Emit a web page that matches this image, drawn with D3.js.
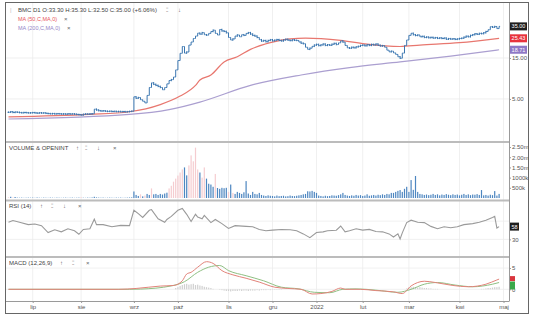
<!DOCTYPE html>
<html>
<head>
<meta charset="utf-8">
<script src="https://cdn.jsdelivr.net/npm/d3@7"></script>
<style>
  body { margin: 0; background: #fff; }
  svg { display: block; font-family: "Liberation Sans", Arial, sans-serif; }
</style>
</head>
<body>
<svg id="chart" width="536" height="318"></svg>
<script>
// daily closes (index 0 = mid June 2021)
var closes = [
  3.50,3.55,3.48,3.52,3.50,3.47,3.45,3.48,3.46,3.44,
  3.45,3.47,3.44,3.42,3.45,3.43,3.44,3.40,3.38,3.36,
  3.38,3.35,3.37,3.36,3.34,3.35,3.33,3.36,3.34,3.35,
  3.33,3.30,3.28,3.25,3.32,3.34,3.33,3.35,3.36,3.80,
  3.72,3.65,3.62,3.64,3.60,3.58,3.60,3.57,3.59,3.56,
  3.58,3.55,3.57,3.54,3.56,3.58,3.60,5.30,5.10,5.20,
  4.90,4.70,4.50,5.50,6.80,7.70,7.40,7.20,7.00,6.80,
  6.40,6.80,7.50,8.20,8.40,9.00,10.9,14.0,17.0,20.4,
  17.1,17.6,21.2,23.0,25.3,27.0,29.2,28.5,29.6,28.0,
  27.7,29.0,30.5,31.6,29.0,27.8,32.2,31.0,30.6,29.5,
  26.0,24.3,25.0,27.0,27.8,26.5,28.0,27.5,29.0,29.6,
  28.5,27.5,27.0,26.0,24.5,23.6,24.0,23.2,24.0,24.5,
  23.8,24.2,24.6,24.0,23.7,24.3,24.8,24.2,23.9,24.4,
  24.1,24.0,23.0,22.3,22.0,20.0,18.9,19.5,20.5,21.2,
  21.6,20.9,21.3,21.8,21.0,21.4,21.1,21.7,22.2,21.5,
  22.5,23.7,23.0,21.0,19.7,19.5,20.0,19.7,20.2,20.5,
  21.0,21.2,20.8,21.4,21.0,21.6,21.3,21.8,21.1,20.7,
  20.9,20.0,18.5,17.7,18.0,17.2,16.5,15.5,14.9,17.1,
  21.0,24.3,27.5,29.1,28.0,27.4,27.8,26.5,26.8,26.0,
  26.3,25.8,26.1,25.6,25.9,25.4,25.7,25.3,25.6,24.8,
  25.2,24.9,25.1,24.7,25.0,25.3,25.5,26.2,26.9,26.5,
  27.5,28.0,28.7,28.3,29.0,28.8,29.5,30.5,32.0,34.7,
  34.2,34.9,33.0,35.0
];

// daily volume in thousands
var volumes = [
  30,60,25,50,20,15,20,10,15,20,
  15,20,10,25,15,10,20,15,10,20,
  15,10,20,15,10,15,20,10,15,20,
  10,15,20,40,15,10,20,15,25,60,
  30,20,15,20,10,15,20,15,10,20,
  15,20,10,15,20,25,30,320,150,100,
  180,80,120,200,150,470,180,200,150,200,
  170,220,260,470,600,800,950,1100,1250,1400,
  1500,1110,1600,2090,1800,2470,1400,1250,1000,1500,
  950,700,660,550,1180,490,450,500,480,500,
  300,660,250,200,300,250,200,280,830,220,
  150,300,200,180,250,150,120,100,130,110,
  100,80,120,90,100,110,80,90,120,100,
  90,110,130,150,180,200,330,320,350,300,
  250,120,100,80,110,90,100,130,120,110,
  140,180,250,150,120,100,130,110,150,120,
  140,100,120,180,110,130,150,120,160,140,
  180,150,200,180,250,250,300,350,390,300,
  450,550,300,880,400,1080,300,200,180,150,
  170,140,160,200,150,180,130,170,150,190,
  160,140,180,150,170,130,160,200,150,180,
  140,170,160,190,150,390,130,150,120,160,
  140,340,120,200
];
// days whose volume bar is drawn pink
var downDays = [0,2,33,60,62,65,73,74,75,76,77,78,79,82,83,84,85,86,88,89,94,100,102];

var ma50Idx = [0,37,55,69,78,85,87,92,98,104,110,119,128,135,151,162,178,187,205,223];
var ma50Val = [3.1,3.3,3.55,4.3,5.4,7.2,8.3,9.5,13.5,15.5,18.9,22.6,25.1,25.6,24.0,21.9,20.4,21.2,22.6,25.43];

var ma200Idx = [0,55,73,87,110,133,155,178,201,223];
var ma200Val = [2.92,3.3,3.75,4.6,7.2,9.5,11.6,13.5,15.8,18.71];

var rsiIdx = [0,2,5,9,12,15,18,21,24,27,30,32,34,37,39,40,43,47,51,55,
  57,59,61,64,65,68,71,72,74,77,79,81,83,85,86,88,89,92,94,97,
  100,103,108,111,114,117,120,124,128,131,134,137,140,143,145,149,151,153,155,158,
  161,164,167,170,173,175,177,178,179,181,183,186,189,192,195,198,201,204,207,211,
  214,217,220,221,222,223];
var rsiVal = [67.6,71.3,67.6,62.3,63.8,60.1,45.0,51.0,46.5,53.3,48.8,41.2,51.8,53.3,74.4,62.3,62.3,57.8,60.8,60.1,
  93.9,86.4,78.1,93.9,95.4,75.1,67.6,73.6,80.4,93.9,98.0,85.0,69.1,85.0,79.0,75.1,82.6,66.8,73.6,64.6,
  54.0,60.1,58.5,57.8,51.8,48.8,50.3,51.8,51.0,48.8,42.0,33.7,45.0,46.5,48.8,50.0,59.3,46.5,48.8,53.3,
  50.3,51.8,47.3,46.5,42.0,35.2,42.0,30.7,44.2,66.8,72.1,67.6,66.8,58.5,53.3,57.8,55.5,57.8,62.3,64.6,
  67.6,72.1,78.1,80.4,54.8,58.0];

var macdIdx = [0,50,58,69,75,79,81,83,86,90,93,97,102,108,114,121,127,133,138,142,147,151,153,160,167,175,179,183,186,189,194,202,209,217,222,223];
var macdVal = [0,0,0.2,0.76,0.9,2.0,3.6,4.0,5.2,6.5,6.1,4.4,3.4,2.6,1.7,0.5,0.2,0,-1.1,-1.0,-0.5,0.3,0,0,-0.3,-0.6,-1.0,0.8,1.6,1.9,1.6,0.9,0.6,1.2,2.2,2.4];
var signalIdx = [0,55,60,74,80,86,91,96,100,108,116,124,132,139,146,152,158,167,177,183,189,195,203,211,220,223];
var signalVal = [0,0,0.05,0.8,1.8,4.0,5.2,5.6,4.4,3.2,2.0,0.5,0.1,-0.7,-0.8,0,0.1,-0.2,-0.7,0,1.2,1.6,1.0,0.6,1.2,1.6];
// histogram runs: first day of each run, then its values
var histStart = [76, 96, 181, 215];
var histVals = [
  [0.3,0.5,0.8,1.0,1.2,1.3,1.1,1.2,1.3,1.0,1.1,0.9,0.8,0.6,0.5,0.4,0.3,0.1],
  [-0.1,-0.2,-0.3,-0.4,-0.4,-0.5,-0.4,-0.4,-0.4,-0.3,-0.4,-0.3,-0.3,-0.4,-0.3,-0.3,-0.3,-0.2,-0.3,-0.2,-0.2,-0.2,-0.1,-0.2,-0.1,-0.1,-0.1,-0.1,-0.1],
  [0.2,0.4,0.5,0.6,0.5,0.4,0.5,0.4,0.3,0.3,0.2,0.2,0.1,0.1,0.1],
  [0.1,0.1,0.2,0.3,0.3,0.4,0.5,0.5,0.6]
];

var monthIdx = [11,33,57,77,100,120,140,161,182,205,225];
var monthLabels = ["lip","sie","wrz","paź","lis","gru","2022","lut","mar","kwi","maj"];

var priceTicks = [5, 15];
var volTicks = [500, 1000, 1500, 2000, 2500];
var rsiTicks = [30];
var macdTicks = [0, 5];

var lastClose = 35.00, lastMa50 = 25.43, lastMa200 = 18.71, lastRsi = 58;

var svg = d3.select("#chart");
var plotL = 6, plotR = 509;

svg.append("rect").attr("width", 536).attr("height", 318).attr("fill", "#fff");

var x = d3.scaleLinear().domain([0, 223]).range([8.5, 499.1]);
var yP = d3.scaleLog().domain([1.62, 67.3]).range([141, 2]);
var yV = d3.scaleLinear().domain([0, 2600]).range([198, 145]);
var yR = d3.scaleLinear().domain([0, 100]).range([253, 207.5]);
var yM = d3.scaleLinear().domain([-2.75, 7.6]).range([301, 257]);

// clip paths for each panel
var defs = svg.append("defs");
function clip(id, y0, y1) {
  defs.append("clipPath").attr("id", id)
    .append("rect").attr("x", plotL).attr("y", y0)
    .attr("width", plotR - plotL).attr("height", y1 - y0);
  return "url(#" + id + ")";
}
var cPrice = clip("cp", 3, 141), cVol = clip("cv", 143, 199),
    cRsi = clip("cr", 202, 256), cMacd = clip("cm", 258, 301);

// vertical grid
svg.append("g").selectAll("line").data(monthIdx).enter().append("line")
  .attr("x1", d => x(d)).attr("x2", d => x(d))
  .attr("y1", 3).attr("y2", 301)
  .attr("stroke", "#ececec").attr("stroke-width", 0.8);

function hgrid(ticks, scale) {
  svg.append("g").selectAll("line").data(ticks).enter().append("line")
    .attr("x1", plotL).attr("x2", plotR)
    .attr("y1", d => scale(d)).attr("y2", d => scale(d))
    .attr("stroke", "#ececec").attr("stroke-width", 0.8);
}
hgrid(priceTicks, yP);
hgrid([30, 70], yR);
hgrid(macdTicks, yM);

// ---- price panel
var pg = svg.append("g").attr("clip-path", cPrice);
var line = d3.line().curve(d3.curveMonotoneX);

pg.append("path")
  .attr("d", line(ma200Idx.map((d, i) => [x(d), yP(ma200Val[i])])))
  .attr("fill", "none").attr("stroke", "#ab9fd0").attr("stroke-width", 1.2);
pg.append("path")
  .attr("d", line(ma50Idx.map((d, i) => [x(d), yP(ma50Val[i])])))
  .attr("fill", "none").attr("stroke", "#e8776f").attr("stroke-width", 1.2);

var bars = pg.append("g").attr("stroke", "#3a76b0").attr("stroke-width", 1);
closes.forEach(function(c, i) {
  var o = i ? closes[i - 1] : c;
  var y1 = Math.min(yP(o), yP(c)), y2 = Math.max(yP(o), yP(c));
  if (y2 - y1 < 1.5) { y1 -= 0.75; y2 += 0.75; }
  var cx = x(i);
  bars.append("line").attr("x1", cx).attr("x2", cx).attr("y1", y1).attr("y2", y2);
  bars.append("line").attr("x1", cx - 1).attr("x2", cx).attr("y1", yP(o)).attr("y2", yP(o));
  bars.append("line").attr("x1", cx).attr("x2", cx + 1).attr("y1", yP(c)).attr("y2", yP(c));
});

// ---- volume panel
svg.append("g").attr("clip-path", cVol)
  .selectAll("rect").data(volumes).enter().append("rect")
  .attr("x", (d, i) => x(i) - 0.6)
  .attr("width", 1.2)
  .attr("y", d => yV(d))
  .attr("height", d => yV(0) - yV(d))
  .attr("fill", (d, i) => downDays.indexOf(i) >= 0 ? "#f5ccd0" : "#4d86c0");

// ---- RSI panel
svg.append("g").attr("clip-path", cRsi).append("path")
  .attr("d", d3.line()(rsiIdx.map((d, i) => [x(d), yR(rsiVal[i])])))
  .attr("fill", "none").attr("stroke", "#9a9a9a").attr("stroke-width", 1.1);

// ---- MACD panel
var mg = svg.append("g").attr("clip-path", cMacd);
histStart.forEach(function(s, k) {
  mg.append("g").selectAll("rect").data(histVals[k]).enter().append("rect")
    .attr("x", (d, i) => x(s + i) - 0.6)
    .attr("width", 1.2)
    .attr("y", d => Math.min(yM(d), yM(0)))
    .attr("height", d => Math.abs(yM(d) - yM(0)))
    .attr("fill", "#cfcfcf");
});
mg.append("path")
  .attr("d", line(signalIdx.map((d, i) => [x(d), yM(signalVal[i])])))
  .attr("fill", "none").attr("stroke", "#8fc083").attr("stroke-width", 1);
mg.append("path")
  .attr("d", line(macdIdx.map((d, i) => [x(d), yM(macdVal[i])])))
  .attr("fill", "none").attr("stroke", "#e2837a").attr("stroke-width", 1);

// ---- panel dividers and frame
[142, 200.5, 257].forEach(function(y) {
  svg.append("rect").attr("x", plotL).attr("y", y - 1)
    .attr("width", plotR - plotL).attr("height", 2).attr("fill", "#bcbcbc");
});
svg.append("line").attr("x1", plotR + 0.5).attr("x2", plotR + 0.5)
  .attr("y1", 2.5).attr("y2", 301).attr("stroke", "#9a9a9a");
svg.append("line").attr("x1", 5.5).attr("x2", plotR + 0.5)
  .attr("y1", 301.5).attr("y2", 301.5).attr("stroke", "#9a9a9a");
svg.append("rect").attr("x", 5.5).attr("y", 2.5).attr("width", 523).attr("height", 311)
  .attr("fill", "none").attr("stroke", "#666");

// ---- axes
function styleAxis(g) {
  g.select(".domain").remove();
  g.selectAll(".tick line").attr("stroke", "#999");
  g.selectAll(".tick text").attr("fill", "#555").attr("font-size", 6)
    .attr("font-family", "Liberation Sans, Arial, sans-serif");
}
svg.append("g").attr("transform", "translate(" + plotR + ",0)")
  .call(d3.axisRight(yP).tickValues(priceTicks).tickFormat(d3.format(".2f")).tickSize(2).tickPadding(1))
  .call(styleAxis);
svg.append("g").attr("transform", "translate(" + plotR + ",0)")
  .call(d3.axisRight(yV).tickValues(volTicks).tickSize(2).tickPadding(1)
    .tickFormat(d => d >= 1500 ? (d / 1000).toFixed(2) + "m" : d + "k"))
  .call(styleAxis);
svg.append("g").attr("transform", "translate(" + plotR + ",0)")
  .call(d3.axisRight(yR).tickValues(rsiTicks).tickSize(2).tickPadding(1))
  .call(styleAxis);
svg.append("g").attr("transform", "translate(" + plotR + ",0)")
  .call(d3.axisRight(yM).tickValues(macdTicks).tickSize(2).tickPadding(1))
  .call(styleAxis);
svg.append("g").attr("transform", "translate(0,301)")
  .call(d3.axisBottom(x).tickValues(monthIdx).tickSize(2).tickPadding(2)
    .tickFormat((d, i) => monthLabels[i]))
  .call(styleAxis);

// ---- last value boxes
function valueBox(y, label, fill, w) {
  svg.append("rect").attr("x", plotR + 1).attr("y", y - 4).attr("width", w).attr("height", 8)
    .attr("fill", fill);
  svg.append("text").attr("x", plotR + 1 + w / 2).attr("y", y + 2)
    .attr("text-anchor", "middle").attr("font-size", 5.5).attr("fill", "#fff").text(label);
}
valueBox(yP(lastMa200), d3.format(".2f")(lastMa200), "#8e78c6", 17);
valueBox(yP(lastMa50), d3.format(".2f")(lastMa50), "#e8333d", 17);
valueBox(yP(lastClose), d3.format(".2f")(lastClose), "#1e1e1e", 17);
valueBox(yR(lastRsi), lastRsi, "#1e1e1e", 9);
svg.append("rect").attr("x", plotR + 1).attr("y", yM(macdVal[macdVal.length - 1]) - 3)
  .attr("width", 5).attr("height", 5).attr("fill", "#d9363e");
svg.append("rect").attr("x", plotR + 1).attr("y", yM(signalVal[signalVal.length - 1]) - 1)
  .attr("width", 5).attr("height", 8).attr("fill", "#3aa84a");

// ---- titles
function label(xp, yp, txt, col, size) {
  svg.append("text").attr("x", xp).attr("y", yp).attr("font-size", size || 6)
    .attr("fill", col || "#444").text(txt);
}
label(10, 12, "|", "#bbb");
label(18, 12, "BMC D1 O:33.30 H:35.30 L:32.50 C:35.00 (+6.06%)");
label(166, 12, "⁚⁚", "#666");
label(178, 12, "↓", "#666");
label(18, 21, "MA (50,C,MA,0)", "#e8555c", 5.5);
label(64, 21, "×", "#666");
label(18, 30, "MA (200,C,MA,0)", "#9585c8", 5.5);
label(67, 30, "×", "#666");

label(9, 150, "VOLUME & OPENINT");
label(76, 150, "↑", "#666"); label(85, 150, "⁚⁚", "#666");
label(97, 150, "↓", "#666"); label(113, 150, "×", "#666");
label(9, 208, "RSI (14)");
label(40, 208, "↑", "#666"); label(51, 208, "⁚⁚", "#666");
label(63, 208, "↓", "#666"); label(78, 208, "×", "#666");
label(9, 265, "MACD (12,26,9)");
label(60, 265, "↑", "#666"); label(72, 265, "⁚⁚", "#666");
label(86, 265, "×", "#666");
</script>
</body>
</html>
